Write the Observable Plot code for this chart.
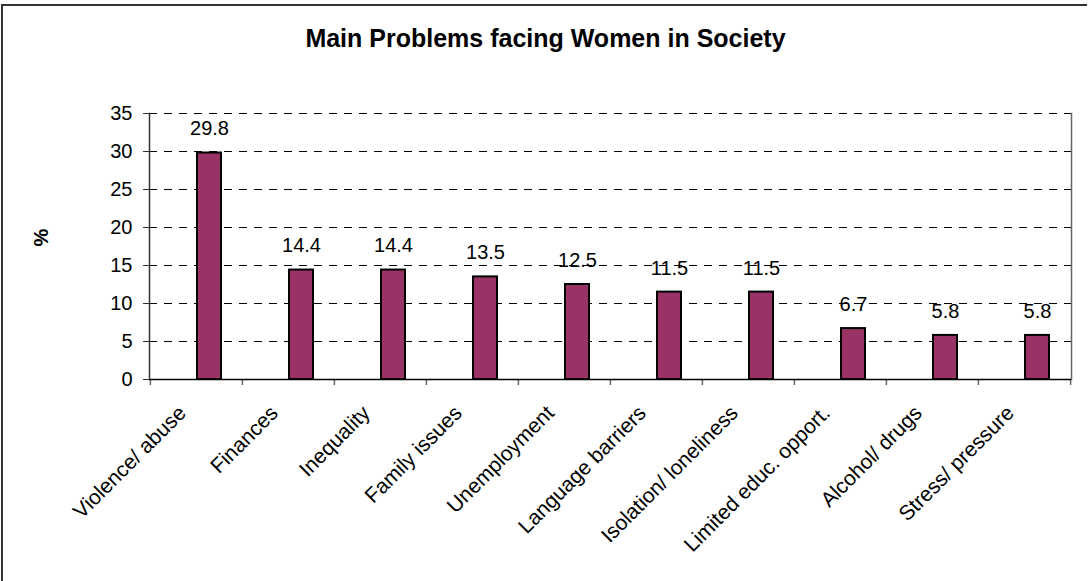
<!DOCTYPE html>
<html>
<head>
<meta charset="utf-8">
<script src="https://cdn.jsdelivr.net/npm/d3@7"></script>
<script src="https://cdn.jsdelivr.net/npm/@observablehq/plot@0.6"></script>
<style>
  html, body { margin: 0; padding: 0; background: #fff; }
  #chart {
    position: relative;
    width: 1091px;
    height: 581px;
    overflow: hidden;
    font-family: "Liberation Sans", Arial, sans-serif;
  }
  #border {
    position: absolute;
    left: 1px;
    top: 4px;
    width: 1084px;
    height: 600px;
    border-top: 2px solid #333;
    border-left: 2px solid #333;
    pointer-events: none;
  }
  #title {
    position: absolute;
    left: 0;
    width: 1091px;
    top: 26px;
    text-align: center;
    font-weight: bold;
    font-size: 25px;
    line-height: 25px;
    color: #000;
  }
  #chart svg { position: absolute; left: 0; top: 0; }
</style>
</head>
<body>
<div id="chart">
  <div id="border"></div>
  <div id="title">Main Problems facing Women in Society</div>
</div>
<script>
// Survey results: share of respondents naming each problem (%)
const categories = [
  "Violence/ abuse",
  "Finances",
  "Inequality",
  "Family issues",
  "Unemployment",
  "Language barriers",
  "Isolation/ loneliness",
  "Limited educ. opport.",
  "Alcohol/ drugs",
  "Stress/ pressure"
];
const percents = [29.8, 14.4, 14.4, 13.5, 12.5, 11.5, 11.5, 6.7, 5.8, 5.8];
const yTicks = [0, 5, 10, 15, 20, 25, 30, 35];
const yLabel = "%";

const rows = categories.map((c, i) => ({problem: c, pct: percents[i]}));

const W = 1091, H = 581;
const mLeft = 149, mRight = 20, mTop = 113, mBottom = 202;
const band = (W - mLeft - mRight) / categories.length;

const plot = Plot.plot({
  width: W,
  height: H,
  marginLeft: mLeft,
  marginRight: mRight,
  marginTop: mTop,
  marginBottom: mBottom,
  style: {
    fontFamily: "'Liberation Sans', Arial, sans-serif",
    fontSize: "20px",
    color: "#000",
    background: "transparent"
  },
  x: {domain: categories, padding: 0, axis: null},
  y: {domain: [0, 35], axis: null},
  marks: [
    // dashed horizontal gridlines
    Plot.gridY({ticks: yTicks.filter(t => t > 0), stroke: "#000", strokeOpacity: 1, strokeWidth: 1, strokeDasharray: "8,7"}),
    // plot area sides
    Plot.frame({anchor: "left", stroke: "#333", strokeWidth: 1.5}),
    Plot.frame({anchor: "right", stroke: "#666", strokeWidth: 1.5}),
    // category boundary ticks
    Plot.axisX({ticks: categories, tickSize: 6, text: null, label: null, dx: -band / 2, stroke: "#666", strokeWidth: 1.5}),
    Plot.axisX({ticks: categories.slice(-1), tickSize: 6, text: null, label: null, dx: band / 2, stroke: "#666", strokeWidth: 1.5}),
    // category labels
    Plot.axisX({tickSize: 0, tickPadding: 30, tickRotate: -45, dx: -14, fontSize: 21, label: null}),
    // value axis
    Plot.axisY({ticks: yTicks, tickSize: 6, tickPadding: 11, fontSize: 20, label: null, stroke: "#333"}),
    Plot.text([yLabel], {frameAnchor: "left", dx: -108, rotate: -90, fontWeight: "bold", fontSize: 20}),
    // bars
    Plot.barY(rows, {x: "problem", y: "pct", fill: "#993366", stroke: "#000", strokeWidth: 2, insetLeft: 47, insetRight: 21}),
    Plot.ruleY([0], {stroke: "#000", strokeWidth: 1.5}),
    // value labels
    Plot.text(rows, {x: "problem", y: "pct", text: d => d.pct.toFixed(1), dx: 13, dy: -24, fontSize: 20})
  ]
});

document.getElementById("chart").appendChild(plot);
</script>
</body>
</html>
